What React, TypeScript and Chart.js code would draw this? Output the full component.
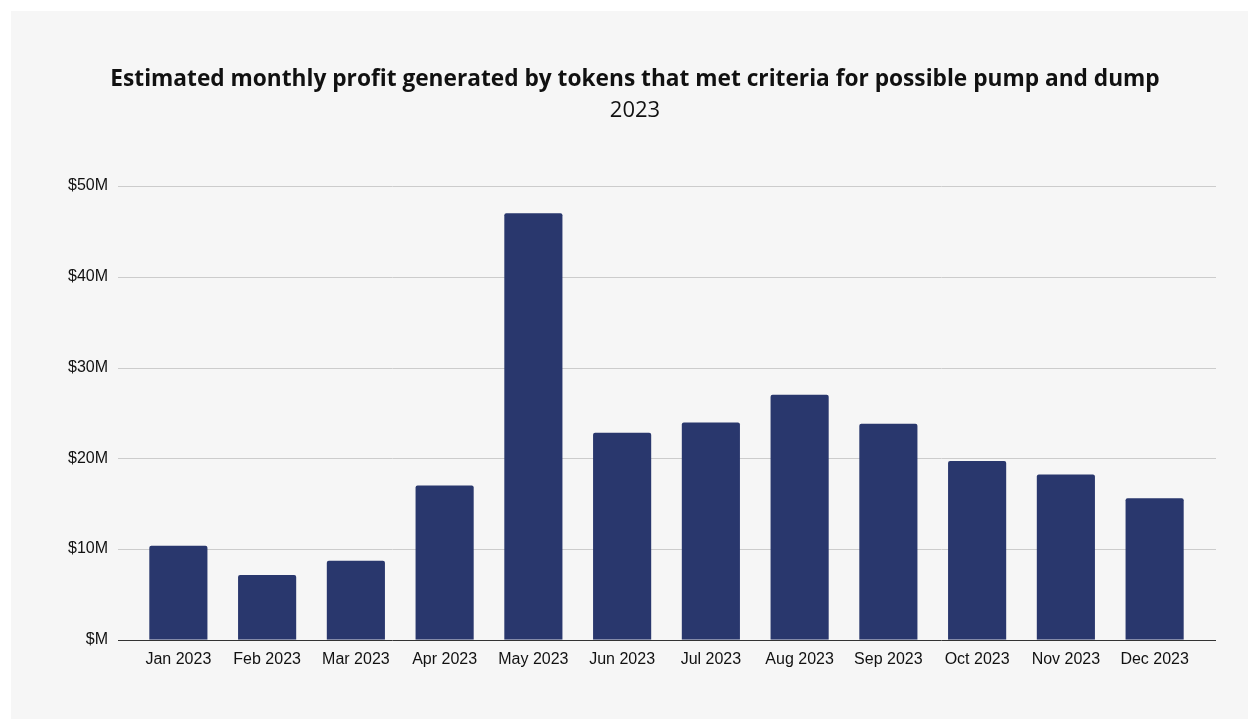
import React, { useEffect, useRef } from "react";
import { Chart, registerables } from "chart.js";

Chart.register(...registerables);

const titleText = "Estimated monthly profit generated by tokens that met criteria for possible pump and dump";
const subtitleText = "2023";
const months = ["Jan 2023", "Feb 2023", "Mar 2023", "Apr 2023", "May 2023", "Jun 2023", "Jul 2023", "Aug 2023", "Sep 2023", "Oct 2023", "Nov 2023", "Dec 2023"];
const profitMillions = [10.35, 7.15, 8.7, 17.0, 47.0, 22.8, 23.95, 27.0, 23.8, 19.7, 18.2, 15.6];
const yTicks = [0, 10, 20, 30, 40, 50];

const gridPlugin = {
  id: "extGrid",
  beforeDatasetsDraw(chart: any) {
    const { ctx, chartArea, scales } = chart;
    const left = chartArea.left - 16;
    const right = chartArea.right + 17;
    ctx.save();
    yTicks.forEach((v) => {
      const y = Math.round(scales.y.getPixelForValue(v)) + 0.5;
      ctx.beginPath();
      ctx.strokeStyle = v === 0 ? "#333333" : "#cccccc";
      ctx.lineWidth = 1;
      ctx.moveTo(left, y);
      ctx.lineTo(right, y);
      ctx.stroke();
    });
    ctx.restore();
  },
  afterDraw(chart: any) {
    const { ctx, width } = chart;
    ctx.save();
    ctx.textAlign = "center";
    ctx.textBaseline = "middle";
    ctx.fillStyle = "#111111";
    ctx.font = "bold 22.7px 'Open Sans'";
    ctx.fillText(titleText, width / 2, 69);
    ctx.font = "normal 22px 'Open Sans'";
    ctx.fillText(subtitleText, width / 2, 100);
    ctx.restore();
  },
};

export default function App() {
  const ref = useRef<HTMLCanvasElement>(null);
  useEffect(() => {
    const chart = new Chart(ref.current!, {
      type: "bar",
      data: {
        labels: months,
        datasets: [
          {
            data: profitMillions,
            backgroundColor: "#29376d",
            borderRadius: 2,
            borderSkipped: "bottom",
            categoryPercentage: 1,
            barPercentage: 0.655,
          },
        ],
      },
      options: {
        animation: false,
        responsive: false,
        layout: { padding: { left: 0, right: 60, top: 175, bottom: 40 } },
        plugins: {
          legend: { display: false },
          tooltip: { enabled: false },
        },
        scales: {
          x: {
            grid: { display: false, drawTicks: false },
            border: { display: false },
            ticks: {
              color: "#111111",
              font: { family: "Liberation Sans", size: 16 },
              padding: 10,
              maxRotation: 0,
              autoSkip: false,
            },
          },
          y: {
            min: 0,
            max: 50,
            grid: { display: false, drawTicks: false },
            border: { display: false },
            afterFit(scale: any) {
              scale.width = 123;
            },
            ticks: {
              stepSize: 10,
              color: "#111111",
              font: { family: "Liberation Sans", size: 16 },
              padding: 26,
              callback: (v: any) => (Number(v) === 0 ? "$M" : "$" + v + "M"),
            },
          },
        },
      },
      plugins: [gridPlugin],
    });
    return () => chart.destroy();
  }, []);
  return (
    <div
      style={{
        position: "fixed",
        left: 11,
        top: 11,
        width: 1248,
        height: 708,
        background: "#f6f6f6",
      }}
    >
      <canvas ref={ref} width={1248} height={708} style={{ display: "block" }} />
    </div>
  );
}
